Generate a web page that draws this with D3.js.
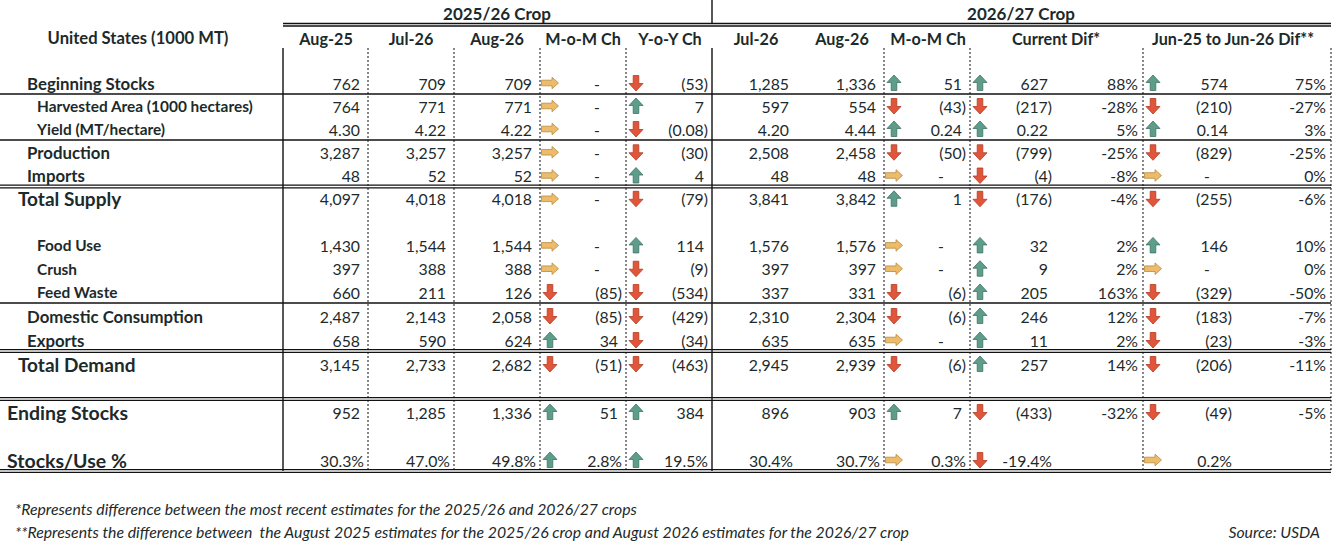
<!DOCTYPE html>
<html>
<head>
<meta charset="utf-8">
<title>United States balance sheet</title>
<script src="https://d3js.org/d3.v7.min.js"></script>
<style>
  body { margin: 0; background: #fff; }
  svg text { font-family: Lato, "Noto Sans", sans-serif; fill: #1c2a2b; }
  .hdr, .lbl { font-weight: bold; }
  .val { font-size: 15.8px; }
  .foot { font-style: italic; font-size: 15.8px; }
</style>
</head>
<body>
<svg id="table" width="1337" height="547"></svg>
<script>
const rowLabels = ["Beginning Stocks", "Harvested Area (1000 hectares)", "Yield (MT/hectare)", "Production", "Imports",
  "Total Supply", "Food Use", "Crush", "Feed Waste", "Domestic Consumption", "Exports", "Total Demand",
  "Ending Stocks", "Stocks/Use %"];

const aug25  = [762, 764, 4.30, 3287, 48, 4097, 1430, 397, 660, 2487, 658, 3145, 952, 30.3];
const jul26  = [709, 771, 4.22, 3257, 52, 4018, 1544, 388, 211, 2143, 590, 2733, 1285, 47.0];
const aug26  = [709, 771, 4.22, 3257, 52, 4018, 1544, 388, 126, 2058, 624, 2682, 1336, 49.8];
const momChg = [0, 0, 0, 0, 0, 0, 0, 0, -85, -85, 34, -51, 51, 2.8];
const yoyChg = [-53, 7, -0.08, -30, 4, -79, 114, -9, -534, -429, -34, -463, 384, 19.5];

const jul26b  = [1285, 597, 4.20, 2508, 48, 3841, 1576, 397, 337, 2310, 635, 2945, 896, 30.4];
const aug26b  = [1336, 554, 4.44, 2458, 48, 3842, 1576, 397, 331, 2304, 635, 2939, 903, 30.7];
const momChg2 = [51, -43, 0.24, -50, 0, 1, 0, 0, -6, -6, 0, -6, 7, 0.3];
const curDif    = [627, -217, 0.22, -799, -4, -176, 32, 9, 205, 246, 11, 257, -433, -19.4];
const curDifPct = [0.88, -0.28, 0.05, -0.25, -0.08, -0.04, 0.02, 0.02, 1.63, 0.12, 0.02, 0.14, -0.32, null];
const junDif    = [574, -210, 0.14, -829, 0, -255, 146, 0, -329, -183, -23, -206, -49, 0.2];
const junDifPct = [0.75, -0.27, 0.03, -0.25, 0, -0.06, 0.10, 0, -0.50, -0.07, -0.03, -0.11, -0.05, null];

// icon set arrows: U = up, D = down, R = flat
const momArrow  = ["R","R","R","R","R","R","R","R","D","D","U","D","U","U"];
const yoyArrow  = ["D","U","D","D","U","D","U","D","D","D","D","D","U","U"];
const momArrow2 = ["U","D","U","D","R","U","R","R","D","D","R","D","U","R"];
const curArrow  = ["U","D","U","D","D","D","U","U","U","U","U","U","D","D"];
const junArrow  = ["U","D","U","D","R","D","U","R","D","D","D","D","D","R"];

const cropHeads = ["2025/26 Crop", "2026/27 Crop"];
const colHeads = ["Aug-25", "Jul-26", "Aug-26", "M-o-M Ch", "Y-o-Y Ch", "Jul-26", "Aug-26", "M-o-M Ch",
  "Current Dif*", "Jun-25 to Jun-26 Dif**"];
const footnotes = ["*Represents difference between the most recent estimates for the 2025/26 and 2026/27 crops",
  "**Represents the difference between  the August 2025 estimates for the 2025/26 crop and August 2026 estimates for the 2026/27 crop"];

// ---- layout ----
const rowSlot  = [1, 2, 3, 4, 5, 6, 8, 9, 10, 11, 12, 13, 15, 17];
const rowLevel = ["main","sub","sub","main","main","total","sub","sub","sub","main","main","total","top","top"];
const rowFmt   = ["int","int","dec2","int","int","int","int","int","int","int","int","int","int","pct1"];
const levelStyle = {
  top:   {x: 7,  size: 19.5},
  total: {x: 18, size: 19},
  main:  {x: 27, size: 16.8},
  sub:   {x: 37, size: 15.4}
};
const cropX = [497, 1021];
const colHeadX = [326, 411, 497, 583, 670, 756, 842, 928, 1056, 1233];

// slot index -> pixel y (row heights differ a little between blocks)
const y = d3.scaleLinear().domain([0, 4, 6, 11, 13, 15, 18]).range([48, 140, 186.5, 303, 351, 399, 471]);
const rowY = i => y(rowSlot[i] + 1) - 11;

const cols = [
  {data: aug25, right: 368},
  {data: jul26, right: 454},
  {data: aug26, right: 540},
  {data: momChg, arrows: momArrow, left: 540, right: 626},
  {data: yoyChg, arrows: yoyArrow, left: 626, right: 712},
  {data: jul26b, right: 797},
  {data: aug26b, right: 884},
  {data: momChg2, arrows: momArrow2, left: 884, right: 970},
  {data: curDif, arrows: curArrow, left: 970, right: 1056},
  {data: curDifPct, right: 1143, pct: true},
  {data: junDif, arrows: junArrow, left: 1143, right: 1236},
  {data: junDifPct, right: 1331, pct: true}
];

const locale = d3.formatLocale({decimal: ".", thousands: ",", grouping: [3], currency: ["$", ""], minus: "-"});
const fmts = {int: locale.format(","), dec2: locale.format(".2f"), pct1: locale.format(".1f")};
const pctFmt = locale.format(".0%");

const arrowColor = d3.scaleOrdinal().domain(["U","D","R"]).range(["#5e9d8a","#e1553b","#ecbc6c"]);
const arrowStroke = d3.scaleOrdinal().domain(["U","D","R"]).range(["#3d7464","#b23c22","#b98a3e"]);
const arrowPath = {
  U: "M0,-8 L7,-0.5 L2.8,-0.5 L2.8,7.5 L-2.8,7.5 L-2.8,-0.5 L-7,-0.5 Z",
  D: "M0,8 L7,0.5 L2.8,0.5 L2.8,-7.5 L-2.8,-7.5 L-2.8,0.5 L-7,0.5 Z",
  R: "M8.5,0 L2,-5.8 L2,-2.8 L-8.5,-2.8 L-8.5,2.8 L2,2.8 L2,5.8 Z"
};

const svg = d3.select("#table");
const lines = svg.append("g").attr("stroke", "#111").attr("fill", "none");
const body = svg.append("g");

// ---- grid lines ----
const tableLeft = 0, tableRight = 1331, bodyTop = y(0), bodyBottom = y(18);
lines.append("line").attr("x1", 712).attr("x2", 712).attr("y1", 0).attr("y2", 23.5).attr("stroke-width", 1.4);
[23.5, 26].forEach(v => lines.append("line").attr("x1", 283).attr("x2", tableRight)
  .attr("y1", v).attr("y2", v).attr("stroke-width", 1.3));
[283, 712].forEach(v => lines.append("line").attr("x1", v).attr("x2", v)
  .attr("y1", bodyTop).attr("y2", bodyBottom).attr("stroke-width", 1.4));
[368, 454, 540, 626, 884, 970, 1143, 1331].forEach(v => lines.append("line").attr("x1", v).attr("x2", v)
  .attr("y1", bodyTop).attr("y2", bodyBottom).attr("stroke-width", 1).attr("stroke-dasharray", "2,2"));
[2, 4, 11].forEach(s => lines.append("line").attr("x1", tableLeft).attr("x2", tableRight)
  .attr("y1", y(s)).attr("y2", y(s)).attr("stroke-width", 1.4));
[6, 13, 15, 18].forEach(s => [-1.3, 1.3].forEach(o => lines.append("line")
  .attr("x1", tableLeft).attr("x2", tableRight)
  .attr("y1", y(s) + o).attr("y2", y(s) + o).attr("stroke-width", 1.2)));

// ---- headers ----
body.selectAll("text.crop").data(cropHeads).join("text")
  .attr("class", "hdr crop").attr("x", (d, i) => cropX[i]).attr("y", 13)
  .attr("text-anchor", "middle").attr("dominant-baseline", "central").attr("font-size", 17).text(d => d);
body.append("text").attr("class", "hdr").attr("x", 138).attr("y", 38)
  .attr("text-anchor", "middle").attr("dominant-baseline", "central").attr("font-size", 16.6)
  .text("United States (1000 MT)");
body.selectAll("text.colhead").data(colHeads).join("text")
  .attr("class", "hdr colhead").attr("x", (d, i) => colHeadX[i]).attr("y", 38)
  .attr("text-anchor", "middle").attr("dominant-baseline", "central").attr("font-size", 16.2).text(d => d);

// ---- row labels ----
body.selectAll("text.lbl").data(rowLabels).join("text")
  .attr("class", "lbl").attr("x", (d, i) => levelStyle[rowLevel[i]].x).attr("y", (d, i) => rowY(i))
  .attr("dominant-baseline", "central").attr("font-size", (d, i) => levelStyle[rowLevel[i]].size).text(d => d);

// ---- values ----
function cellText(v, i, col) {
  if (v == null) return null;
  if (col.pct) return {t: pctFmt(v), x: col.right - 5, anchor: "end"};
  const f = rowFmt[i];
  if (f === "pct1") return {t: fmts.pct1(v) + "%", x: col.right - 4, anchor: "end"};
  if (v === 0) return {t: "-", x: col.right - 29, anchor: "middle"};
  if (v < 0) return {t: "(" + fmts[f](-v) + ")", x: col.right - 4, anchor: "end"};
  return {t: fmts[f](v), x: col.right - 8, anchor: "end"};
}

cols.forEach(col => {
  const cells = col.data.map((v, i) => ({c: cellText(v, i, col), i})).filter(d => d.c);
  const g = body.append("g");
  g.selectAll("text").data(cells).join("text")
    .attr("class", "val").attr("x", d => d.c.x).attr("y", d => rowY(d.i))
    .attr("text-anchor", d => d.c.anchor).attr("dominant-baseline", "central").text(d => d.c.t);
  if (col.arrows) {
    g.selectAll("path").data(col.arrows).join("path")
      .attr("transform", (d, i) => `translate(${col.left + 10},${rowY(i)})`)
      .attr("d", d => arrowPath[d])
      .attr("fill", d => arrowColor(d)).attr("stroke", d => arrowStroke(d)).attr("stroke-width", 0.8);
  }
});

// ---- footnotes ----
body.selectAll("text.foot").data(footnotes).join("text")
  .attr("class", "foot").attr("x", 15).attr("y", (d, i) => 508 + i * 23)
  .attr("dominant-baseline", "central").attr("xml:space", "preserve").style("white-space", "pre").text(d => d);
body.append("text").attr("class", "foot").attr("x", 1320).attr("y", 531)
  .attr("text-anchor", "end").attr("dominant-baseline", "central").text("Source: USDA");
</script>
</body>
</html>
